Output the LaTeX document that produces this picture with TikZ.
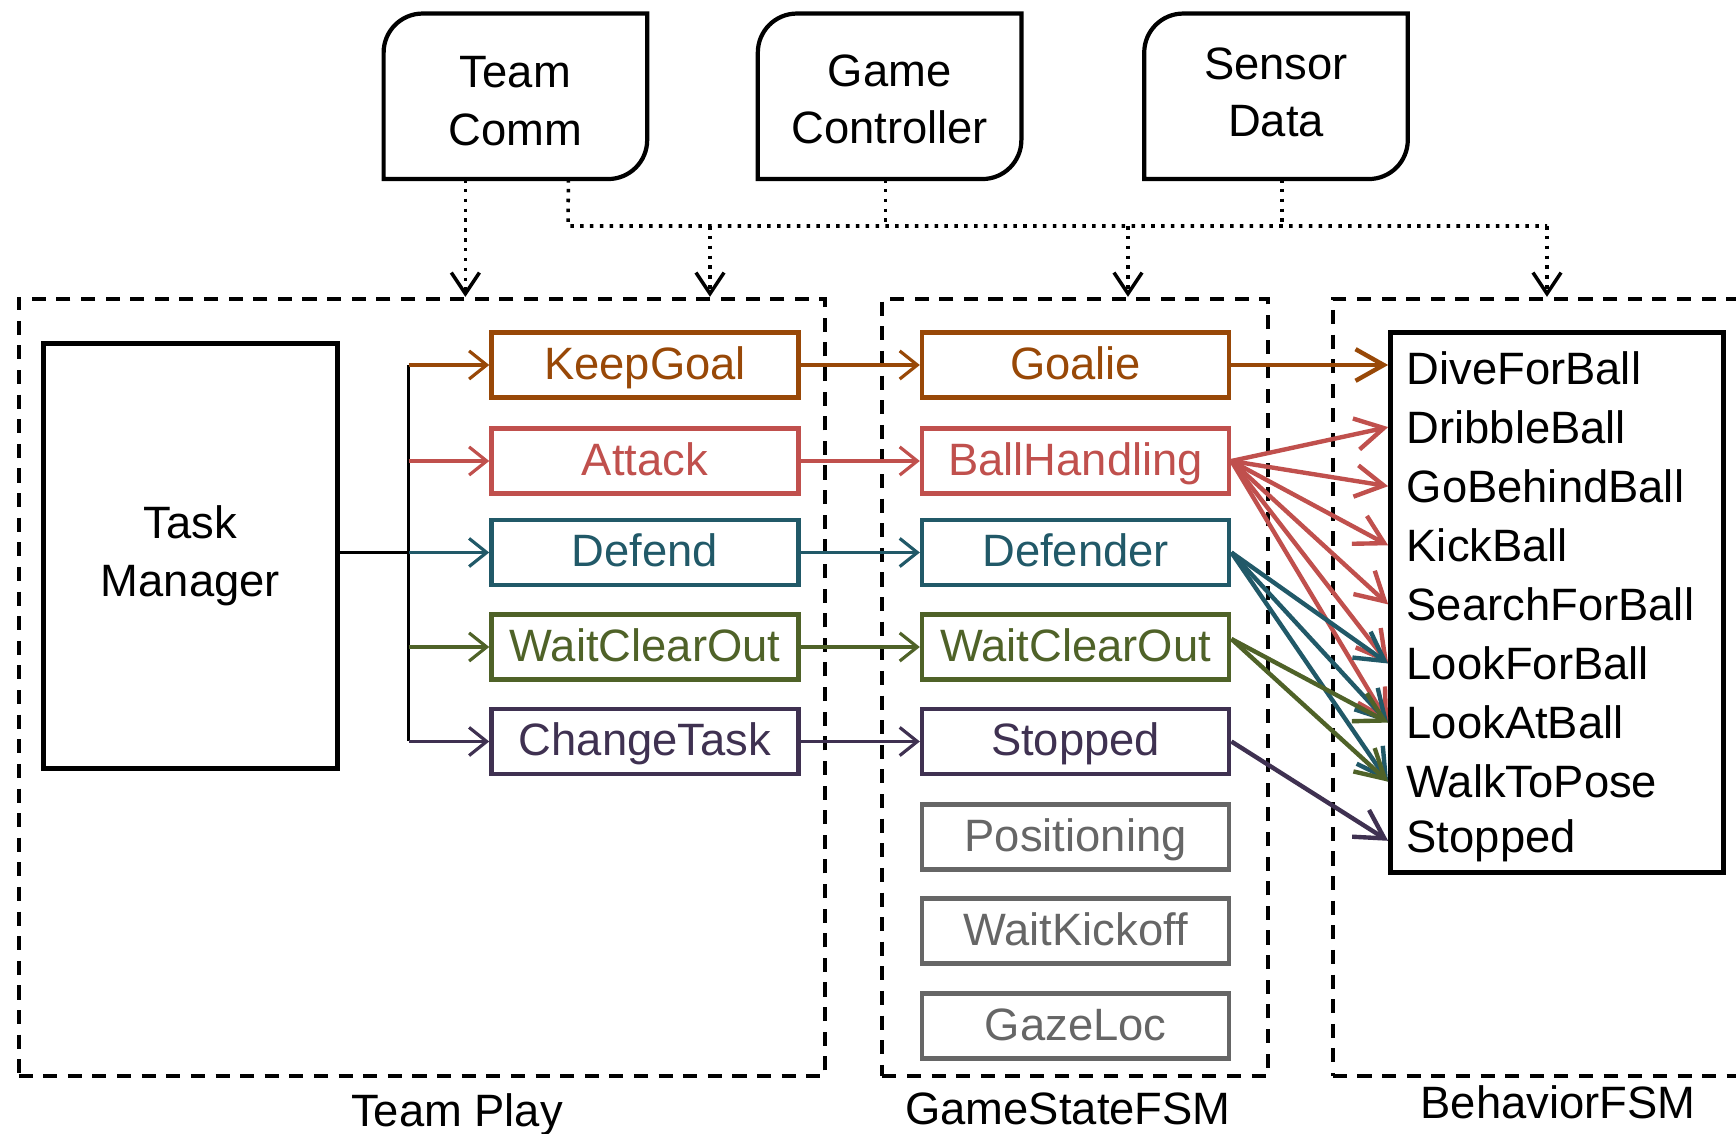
\documentclass[tikz,border=0pt]{standalone}
\usepackage{fontspec}
\setmainfont{Liberation Sans}
\usetikzlibrary{arrows.meta}

\definecolor{keepC}{HTML}{984807}
\definecolor{attackC}{HTML}{C0504D}
\definecolor{defendC}{HTML}{215968}
\definecolor{waitC}{HTML}{4F6228}
\definecolor{changeC}{HTML}{3F3151}
\definecolor{idleC}{HTML}{666666}

% source boxes: top-left and bottom-right corners rounded
\newcommand{\srcr}{0.39cm}
\newcommand{\srcbox}[1]{\draw[line width=1.2pt] (#1.north east) -- ([yshift=\srcr]#1.south east) arc[start angle=0, end angle=-90, radius=\srcr] -- (#1.south west) -- ([yshift=-\srcr]#1.north west) arc[start angle=180, end angle=90, radius=\srcr] -- cycle;}

\begin{document}
\begin{tikzpicture}[x=0.01cm, y=0.01cm, font=\fontsize{12.9}{16.4}\selectfont,
	src/.style={minimum width=2.62cm, minimum height=1.64cm, inner sep=0pt},
	group/.style={draw, dash pattern=on 4pt off 3pt, line width=1.1pt},
	task/.style={draw, line width=1.25pt, minimum width=3.07cm, minimum height=0.65cm, inner sep=0pt, text height=0.82em, text depth=0pt},
	tparrow/.style={line width=0.9pt, -{Straight Barb[length=5pt, width=8pt]}},
	bhvarrow/.style={line width=1.25pt, -{Straight Barb[length=8pt, width=9pt]}},
	dotline/.style={line width=1pt, dash pattern=on 1pt off 1.8pt},
	dotarrow/.style={dotline, -{Straight Barb[length=6pt, width=8pt]}}]
	\useasboundingbox (0,0) rectangle (1736,-1134);
	\clip (0,0) rectangle (1736,-1134);

	% groups
	\node[group, minimum width=8.06cm, minimum height=7.77cm] (tp) at (421.8,-687.5) {};
	\node[group, minimum width=3.85cm, minimum height=7.77cm] (gs) at (1075,-687.5) {};
	\node[group, minimum width=4.67cm, minimum height=7.77cm] (bf) at (1566.5,-687.5) {};
	\node (lblTP) at (457,-1115) {Team Play};
	\node (lblGS) at (1068,-1109) {GameStateFSM};
	\node (lblBF) at (1558,-1102) {BehaviorFSM};

	% inputs
	\node[src] (tc) at (515.4,-96.3) {};
	\node[src] (gc) at (889.6,-96.3) {};
	\node[src] (sd) at (1276,-96.3) {};
	\srcbox{tc}
	\srcbox{gc}
	\srcbox{sd}
	\node[align=center] (tcText) at ([yshift=-0.05cm]tc.center) {Team\\Comm};
	\node[align=center] (gcText) at ([yshift=-0.03cm]gc.center) {Game\\Controller};
	\node[align=center] (sdText) at ([yshift=0.04cm]sd.center) {Sensor\\Data};

	\coordinate (busL) at (568,-226);
	\coordinate (busR) at (1547,-226);
	\coordinate (dTP) at (710,-226);
	\coordinate (dGS) at (1128,-226);
	\draw[dotarrow] ([xshift=-0.5cm]tc.south) -- ([xshift=-0.5cm]tc.south |- tp.north);
	\draw[dotline] ([xshift=0.53cm]tc.south) -- (busL) -- (busR);
	\draw[dotline] ([xshift=-0.04cm]gc.south) -- ([xshift=-0.04cm]gc.south |- busL);
	\draw[dotline] ([xshift=0.06cm]sd.south) -- ([xshift=0.06cm]sd.south |- busL);
	\draw[dotarrow] (dTP) -- (dTP |- tp.north);
	\draw[dotarrow] (dGS) -- (dGS |- gs.north);
	\draw[dotarrow] (busR) -- (busR |- bf.north);

	% team play
	\node[draw, line width=1.4pt, minimum width=2.94cm, minimum height=4.25cm, align=center] (tm) at (190.4,-555.8) {Task\\Manager};
	\node[task, keepC] (tpKeep) at (645,-365) {KeepGoal};
	\node[task, attackC] (tpAttack) at (645,-461) {Attack};
	\node[task, defendC] (tpDefend) at (645,-552.5) {Defend};
	\node[task, waitC] (tpWait) at (645,-647) {WaitClearOut};
	\node[task, changeC] (tpChange) at (645,-741.5) {ChangeTask};

	\coordinate (fork) at (408.5,-552.5);
	\draw[line width=0.9pt] (tm.east |- tpDefend.west) -- (fork);
	\draw[line width=0.9pt] (fork |- tpKeep.west) -- (fork |- tpChange.west);
	\foreach \n/\c in {tpKeep/keepC, tpAttack/attackC, tpDefend/defendC, tpWait/waitC, tpChange/changeC}
		\draw[tparrow, \c] (fork |- \n.west) -- (\n.west);

	% game state
	\node[task, keepC] (gsGoalie) at (1075.6,-365) {Goalie};
	\node[task, attackC] (gsBall) at (1075.6,-461) {BallHandling};
	\node[task, defendC] (gsDefender) at (1075.6,-552.5) {Defender};
	\node[task, waitC] (gsWait) at (1075.6,-647) {WaitClearOut};
	\node[task, changeC] (gsStopped) at (1075.6,-741.5) {Stopped};
	\node[task, idleC] (gsPos) at (1075.6,-837) {Positioning};
	\node[task, idleC] (gsKickoff) at (1075.6,-931) {WaitKickoff};
	\node[task, idleC] (gsGaze) at (1075.6,-1026) {GazeLoc};

	\foreach \a/\b/\c in {tpKeep/gsGoalie/keepC, tpAttack/gsBall/attackC, tpDefend/gsDefender/defendC, tpWait/gsWait/waitC, tpChange/gsStopped/changeC}
		\draw[tparrow, \c] (\a.east) -- (\b.west);

	% behaviors
	\node[draw, line width=1.4pt, minimum width=3.33cm, minimum height=5.40cm] (bhv) at (1557.2,-602.25) {};
	\foreach \t [count=\i from 0] in {DiveForBall, DribbleBall, GoBehindBall, KickBall, SearchForBall, LookForBall, LookAtBall, WalkToPose, Stopped}
		\node[anchor=west, inner sep=0pt] (bhv-\t) at (1406,{-368-59.1*\i}) {\t};

	\draw[bhvarrow, keepC] (gsGoalie.east) -- (bhv.west |- gsGoalie.east);
	\foreach \t in {DribbleBall, GoBehindBall, KickBall, SearchForBall, LookForBall, LookAtBall}
		\draw[bhvarrow, attackC] (gsBall.east) -- (bhv.west |- bhv-\t);
	\foreach \t in {LookForBall, LookAtBall, WalkToPose}
		\draw[bhvarrow, defendC] (gsDefender.east) -- (bhv.west |- bhv-\t);
	\foreach \t in {LookAtBall, WalkToPose}
		\draw[bhvarrow, waitC] ([yshift=0.08cm]gsWait.east) -- (bhv.west |- bhv-\t);
	\draw[bhvarrow, changeC] (gsStopped.east) -- (bhv.west |- bhv-Stopped);
\end{tikzpicture}
\end{document}
